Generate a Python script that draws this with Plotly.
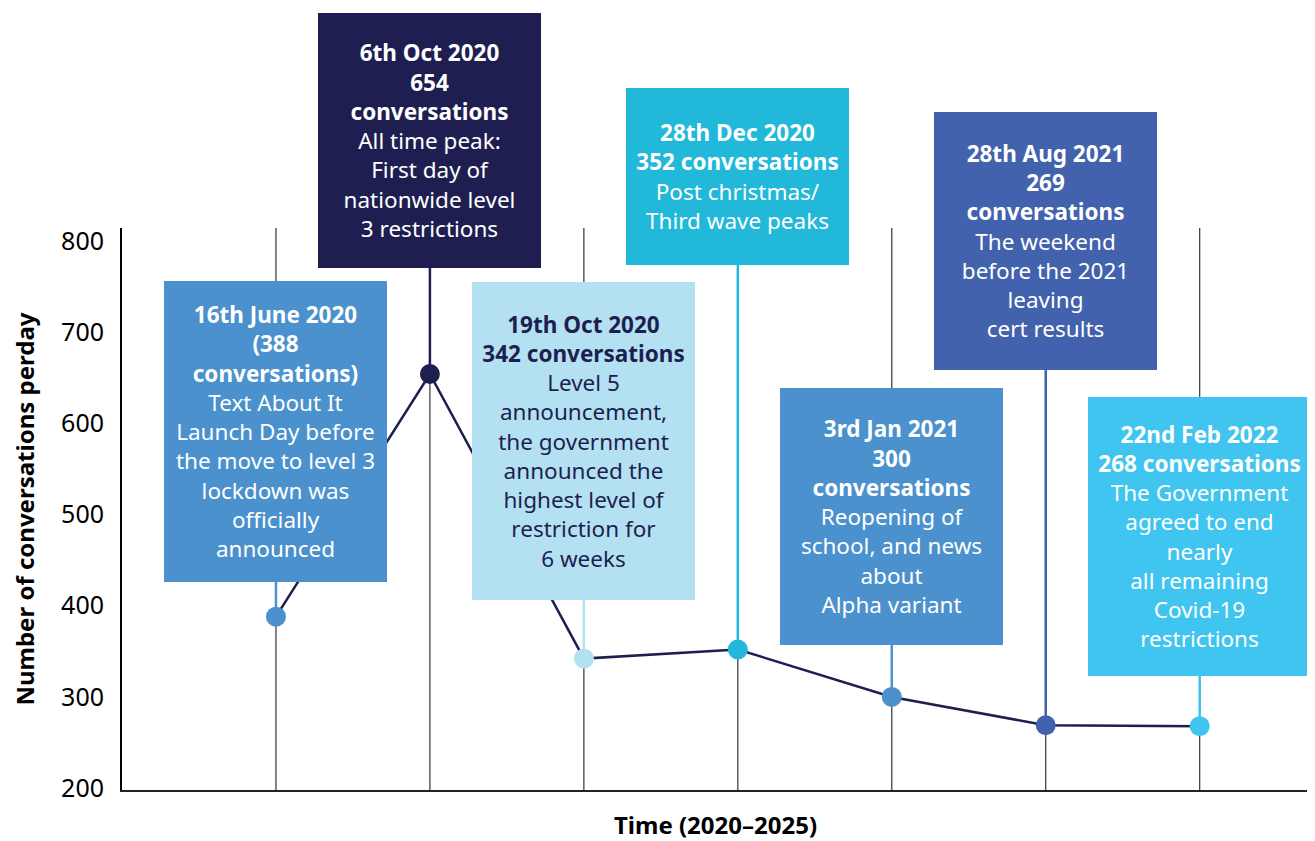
import plotly.graph_objects as go

# ---- data ----
DATES = ["16th June 2020", "6th Oct 2020", "19th Oct 2020", "28th Dec 2020",
         "3rd Jan 2021", "28th Aug 2021", "22nd Feb 2022"]
CONVERSATIONS = [388, 654, 342, 352, 300, 269, 268]
HEADLINES = [
    "(388<br>conversations)",
    "654<br>conversations",
    "342 conversations",
    "352 conversations",
    "300<br>conversations",
    "269<br>conversations",
    "268 conversations",
]
NOTES = [
    "Text About It<br>Launch Day before<br>the move to level 3<br>lockdown was<br>officially<br>announced",
    "All time peak:<br>First day of<br>nationwide level<br>3 restrictions",
    "Level 5<br>announcement,<br>the government<br>announced the<br>highest level of<br>restriction for<br>6 weeks",
    "Post christmas/<br>Third wave peaks",
    "Reopening of<br>school, and news<br>about<br>Alpha variant",
    "The weekend<br>before the 2021<br>leaving<br>cert results",
    "The Government<br>agreed to end<br>nearly<br>all remaining<br>Covid-19<br>restrictions",
]
Y_TICKS = [200, 300, 400, 500, 600, 700, 800]

# ---- styles / layout ----
NAVY = "#1e1f50"
BOX_COLORS = ["#4b91cd", "#1e1f50", "#b3e1f2", "#22b8da", "#4b91cd", "#4262ad", "#3fc5ef"]
TEXT_COLORS = ["white", "white", NAVY, "white", "white", "white", "white"]
OFFSET = 8  # page body margin
BOX_TOP_PX = [281, 13, 282, 88, 388, 112, 397]   # page pixels
BOX_H_PX = [301, 255, 318, 177, 257, 258, 279]
BOX_W = 223
FONT = "Noto Sans"

W, H = 1307, 833
PLOT_LEFT, PLOT_RIGHT = 122 - OFFSET, 1309 - OFFSET
PLOT_TOP, PLOT_BOTTOM = 228 - OFFSET, 790 - OFFSET
Y_RANGE = [198, 814]
X = list(range(1, len(DATES) + 1))


def px_to_paper(p):
    return (PLOT_BOTTOM - (p - OFFSET)) / (PLOT_BOTTOM - PLOT_TOP)


def px_to_y(p):
    return Y_RANGE[0] + px_to_paper(p) * (Y_RANGE[1] - Y_RANGE[0])


fig = go.Figure()
fig.add_trace(go.Scatter(
    x=X, y=CONVERSATIONS, mode="lines+markers",
    line=dict(color=NAVY, width=2.5),
    marker=dict(size=20, color=BOX_COLORS),
    hovertext=DATES, hoverinfo="text+y",
    showlegend=False,
))

shapes = []
annotations = []
for i, x in enumerate(X):
    # thin full-height guide
    shapes.append(dict(type="line", xref="x", yref="paper", x0=x, x1=x, y0=0, y1=1,
                       line=dict(color="#333", width=1.2), layer="below"))
    # coloured connector from box bottom to the point
    shapes.append(dict(type="line", xref="x", yref="y", x0=x, x1=x,
                       y0=CONVERSATIONS[i], y1=px_to_y(BOX_TOP_PX[i] + BOX_H_PX[i]),
                       line=dict(color=BOX_COLORS[i], width=2.5), layer="below"))
    annotations.append(dict(
        x=x, xref="x", xanchor="center",
        y=px_to_paper(BOX_TOP_PX[i]), yref="paper", yanchor="top",
        width=BOX_W, height=BOX_H_PX[i], borderpad=0, borderwidth=0,
        bgcolor=BOX_COLORS[i], showarrow=False, align="center", valign="middle",
        text=f"<b>{DATES[i]}<br>{HEADLINES[i]}</b><br>{NOTES[i]}",
        font=dict(family=FONT, size=22.5, color=TEXT_COLORS[i]),
    ))

fig.update_layout(
    width=W, height=H,
    margin=dict(l=PLOT_LEFT, r=W - PLOT_RIGHT, t=PLOT_TOP, b=H - PLOT_BOTTOM),
    paper_bgcolor="white", plot_bgcolor="white",
    shapes=shapes, annotations=annotations,
    font=dict(family=FONT, color="black"),
)
fig.update_xaxes(
    range=[0, 7.71], showgrid=False, zeroline=False, showticklabels=False,
    showline=True, linecolor="#222", linewidth=2,
    title=dict(text="<b>Time (2020–2025)</b>", font=dict(size=24), standoff=28),
)
fig.update_yaxes(
    range=Y_RANGE, tickvals=Y_TICKS, showgrid=False, zeroline=False,
    showline=True, linecolor="black", linewidth=2,
    tickfont=dict(size=25), ticklabelstandoff=11,
    title=dict(text="<b>Number of conversations perday</b>", font=dict(size=24), standoff=22),
)

fig.write_html("out.html")
